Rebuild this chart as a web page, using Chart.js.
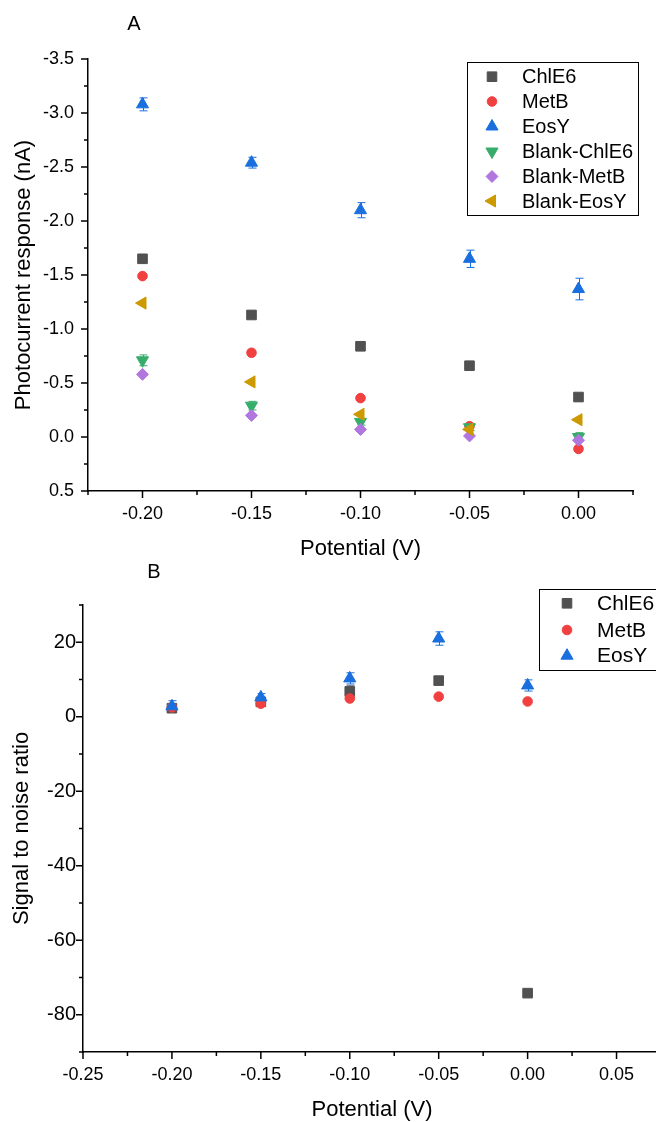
<!DOCTYPE html>
<html>
<head>
<meta charset="utf-8">
<script src="https://cdn.jsdelivr.net/npm/chart.js@4/dist/chart.umd.min.js"></script>
<style>
  html, body { margin: 0; padding: 0; background: #fff; overflow: hidden; width: 656px; height: 1122px; }
  #wrap { position: relative; width: 656px; height: 1122px; overflow: hidden; }
  #chartA { position: absolute; left: 0; top: 0; }
  #chartB { position: absolute; left: 0; top: 560px; }
</style>
</head>
<body>
<div id="wrap">
  <canvas id="chartA" width="656" height="560"></canvas>
  <canvas id="chartB" width="700" height="562"></canvas>
</div>
<script>
// Applied potentials (V)
const potentials = [-0.20, -0.15, -0.10, -0.05, 0.00];

// Panel A: photocurrent response (nA)
const chle6Current      = [-1.65, -1.13, -0.84, -0.66, -0.37];
const metbCurrent       = [-1.49, -0.78, -0.36, -0.10, 0.11];
const eosyCurrent       = [-3.08, -2.54, -2.10, -1.65, -1.37];
const blankChle6Current = [-0.71, -0.29, -0.14, -0.09, 0.00];
const blankMetbCurrent  = [-0.58, -0.20, -0.07, -0.01, 0.03];
const blankEosyCurrent  = [-1.24, -0.51, -0.21, -0.07, -0.16];
const eosyCurrentErr       = [0.06, 0.05, 0.07, 0.08, 0.10];
const blankChle6CurrentErr = [0.05, 0.04, 0.03, 0.03, 0.04];

// Panel B: signal to noise ratio
const chle6Snr = [2.3, 4.0, 6.8, 9.7, -74.2];
const metbSnr  = [2.5, 3.5, 4.9, 5.4, 4.1];
const eosySnr  = [2.8, 5.2, 10.3, 21.0, 8.4];
const chle6SnrErr = [0.5, 0.5, 1.5, 0.5, 0.5];
const eosySnrErr  = [1.5, 1.0, 1.5, 1.8, 1.5];

// Axis ticks
const xTicksA = [-0.20, -0.15, -0.10, -0.05, 0.00];
const xMinorA = [-0.225, -0.175, -0.125, -0.075, -0.025, 0.025];
const yTicksA = [-3.5, -3.0, -2.5, -2.0, -1.5, -1.0, -0.5, 0.0, 0.5];
const yMinorA = [-3.25, -2.75, -2.25, -1.75, -1.25, -0.75, -0.25, 0.25];
const xTicksB = [-0.25, -0.20, -0.15, -0.10, -0.05, 0.00, 0.05];
const xMinorB = [-0.225, -0.175, -0.125, -0.075, -0.025, 0.025, 0.075];
const yTicksB = [20, 0, -20, -40, -60, -80];
const yMinorB = [30, 10, -10, -30, -50, -70, -90];

const FONT = "'Liberation Sans', Arial, Helvetica, sans-serif";
Chart.defaults.font.family = FONT;
Chart.defaults.color = '#000';

// Marker styles per series
const MARK = {
  chle6:      { color: '#515151', shape: 'rect',     rot: 0,   r: 6.8 },
  metb:       { color: '#F14040', shape: 'circle',   rot: 0,   r: 4.8 },
  eosy:       { color: '#1A6FDF', shape: 'triangle', rot: 0,   r: 7.0 },
  blankChle6: { color: '#37AD6B', shape: 'triangle', rot: 180, r: 7.0 },
  blankMetb:  { color: '#B177DE', shape: 'rectRot',  rot: 0,   r: 6.0 },
  blankEosy:  { color: '#CC9900', shape: 'triangle', rot: 270, r: 7.0 }
};

function series(label, values, errs, m, order) {
  return {
    label,
    data: potentials.map((x, i) => ({ x, y: values[i] })),
    errors: errs,
    pointStyle: m.shape,
    pointRotation: m.rot,
    pointRadius: m.r,
    pointHoverRadius: m.r,
    backgroundColor: m.color,
    borderColor: m.color,
    borderWidth: 1,
    showLine: false,
    order
  };
}

function drawMarker(ctx, ds, x, y) {
  ctx.save();
  ctx.fillStyle = ds.backgroundColor;
  ctx.strokeStyle = ds.borderColor;
  ctx.lineWidth = 1;
  Chart.helpers.drawPoint(ctx, {
    pointStyle: ds.pointStyle, rotation: ds.pointRotation,
    radius: ds.pointRadius, borderWidth: 1
  }, x, y);
  ctx.restore();
}

// Error bars, tick marks, axis titles, panel letter and legend box
const decor = {
  id: 'decor',
  beforeDatasetsDraw(chart) {
    const ctx = chart.ctx, xs = chart.scales.x, ys = chart.scales.y;
    chart.data.datasets.forEach(d => {
      if (!d.errors) return;
      ctx.save();
      ctx.strokeStyle = d.borderColor;
      ctx.lineWidth = 1;
      d.data.forEach((p, i) => {
        const e = d.errors[i];
        if (!e) return;
        const px = Math.round(xs.getPixelForValue(p.x)) + 0.5;
        const y1 = ys.getPixelForValue(p.y - e), y2 = ys.getPixelForValue(p.y + e);
        ctx.beginPath();
        ctx.moveTo(px, y1); ctx.lineTo(px, y2);
        ctx.moveTo(px - 4, y1); ctx.lineTo(px + 4, y1);
        ctx.moveTo(px - 4, y2); ctx.lineTo(px + 4, y2);
        ctx.stroke();
      });
      ctx.restore();
    });
  },
  afterDraw(chart, args, o) {
    const ctx = chart.ctx, xs = chart.scales.x, ys = chart.scales.y;
    const area = chart.chartArea;
    ctx.save();
    ctx.strokeStyle = '#000';
    ctx.lineWidth = 1.5;
    ctx.beginPath();
    const tickX = (vals, len) => vals.forEach(v => {
      const px = xs.getPixelForValue(v);
      ctx.moveTo(px, area.bottom); ctx.lineTo(px, area.bottom + len);
    });
    const tickY = (vals, len) => vals.forEach(v => {
      const py = ys.getPixelForValue(v);
      ctx.moveTo(area.left, py); ctx.lineTo(area.left - len, py);
    });
    tickX(o.xMajor, 7); tickX(o.xMinor, 4);
    tickY(o.yMajor, 7); tickY(o.yMinor, 4);
    ctx.stroke();

    // axis titles
    ctx.fillStyle = '#000';
    ctx.font = '22px ' + FONT;
    ctx.textAlign = 'center';
    ctx.textBaseline = 'middle';
    ctx.fillText(o.xTitle, (area.left + area.right) / 2, o.xTitleY);
    ctx.save();
    ctx.translate(o.yTitleX, (area.top + area.bottom) / 2);
    ctx.rotate(-Math.PI / 2);
    ctx.fillText(o.yTitle, 0, 0);
    ctx.restore();

    // panel letter
    ctx.font = '20px ' + FONT;
    ctx.fillText(o.letter, o.letterX, o.letterY);

    // legend
    const L = o.legend;
    ctx.lineWidth = 1;
    ctx.strokeStyle = '#000';
    ctx.strokeRect(L.x0 + 0.5, L.y0 + 0.5, L.x1 - L.x0, L.y1 - L.y0);
    ctx.font = L.font + 'px ' + FONT;
    ctx.textAlign = 'left';
    chart.data.datasets.forEach((d, i) => {
      const ry = L.rows[i];
      drawMarker(ctx, d, L.markX, ry);
      ctx.fillStyle = '#000';
      ctx.fillText(d.label, L.textX, ry + 1);
    });
    ctx.restore();
  }
};

function scaleOpts(min, max, reverse, ticks, fmt, size, pad, fitKey, fitVal) {
  return {
    type: 'linear', min, max, reverse,
    grid: { display: false, drawTicks: false },
    border: { display: true, color: '#000', width: 1.5 },
    afterBuildTicks: s => { s.ticks = ticks.map(v => ({ value: v })); },
    afterFit: s => { s[fitKey] = fitVal; },
    ticks: { callback: v => Number(v).toFixed(fmt), font: { size }, padding: pad, color: '#000', maxRotation: 0, autoSkip: false }
  };
}

new Chart(document.getElementById('chartA'), {
  type: 'scatter',
  data: {
    datasets: [
      series('ChlE6', chle6Current, null, MARK.chle6, 6),
      series('MetB', metbCurrent, null, MARK.metb, 5),
      series('EosY', eosyCurrent, eosyCurrentErr, MARK.eosy, 4),
      series('Blank-ChlE6', blankChle6Current, blankChle6CurrentErr, MARK.blankChle6, 3),
      series('Blank-MetB', blankMetbCurrent, null, MARK.blankMetb, 2),
      series('Blank-EosY', blankEosyCurrent, null, MARK.blankEosy, 1)
    ]
  },
  options: {
    responsive: false, animation: false, devicePixelRatio: 1,
    layout: { padding: { top: 59, right: 23, bottom: 29, left: 0 } },
    scales: {
      x: scaleOpts(-0.225, 0.025, false, xTicksA, 2, 18, 12, 'height', 40),
      y: scaleOpts(-3.5, 0.5, true, yTicksA, 1, 18, 14, 'width', 88)
    },
    plugins: {
      legend: { display: false }, tooltip: { enabled: false },
      decor: {
        xMajor: xTicksA, xMinor: xMinorA, yMajor: yTicksA, yMinor: yMinorA,
        xTitle: 'Potential (V)', xTitleY: 549,
        yTitle: 'Photocurrent response (nA)', yTitleX: 24,
        letter: 'A', letterX: 134, letterY: 24,
        legend: { x0: 467, y0: 62, x1: 638, y1: 215, markX: 492, textX: 522, font: 20,
                  rows: [76.7, 101.5, 126.5, 151.5, 176.5, 201] }
      }
    }
  },
  plugins: [decor]
});

new Chart(document.getElementById('chartB'), {
  type: 'scatter',
  data: {
    datasets: [
      series('ChlE6', chle6Snr, chle6SnrErr, MARK.chle6, 3),
      series('MetB', metbSnr, null, MARK.metb, 2),
      series('EosY', eosySnr, eosySnrErr, MARK.eosy, 1)
    ]
  },
  options: {
    responsive: false, animation: false, devicePixelRatio: 1,
    layout: { padding: { top: 45, right: 39, bottom: 30, left: 0 } },
    scales: {
      x: scaleOpts(-0.25, 0.075, false, xTicksB, 2, 18, 12, 'height', 40),
      y: scaleOpts(-90, 30, false, yTicksB, 0, 20, 7, 'width', 83)
    },
    plugins: {
      legend: { display: false }, tooltip: { enabled: false },
      decor: {
        xMajor: xTicksB, xMinor: xMinorB, yMajor: yTicksB, yMinor: yMinorB,
        xTitle: 'Potential (V)', xTitleY: 550,
        yTitle: 'Signal to noise ratio', yTitleX: 22,
        letter: 'B', letterX: 154, letterY: 12.5,
        legend: { x0: 539, y0: 29, x1: 690, y1: 110, markX: 567, textX: 597, font: 21,
                  rows: [43.3, 70, 95.7] }
      }
    }
  },
  plugins: [decor]
});
</script>
</body>
</html>
